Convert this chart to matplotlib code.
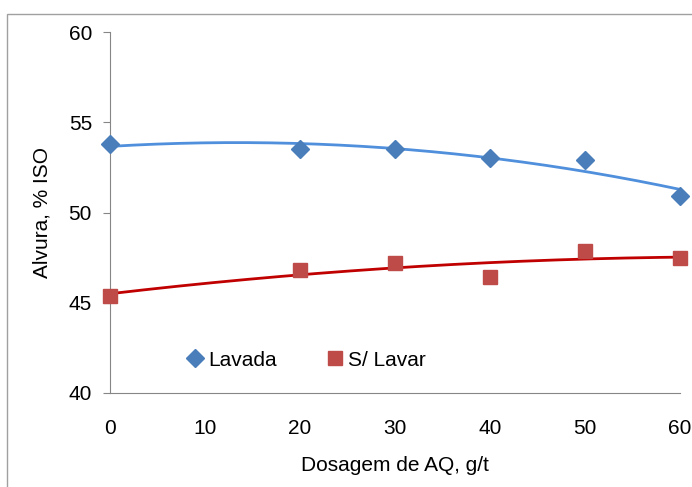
import numpy as np
import matplotlib.pyplot as plt
from matplotlib.patches import Rectangle

plt.rcParams['font.family'] = ['Liberation Sans', 'DejaVu Sans']

dose = [0, 20, 30, 40, 50, 60]
lavada = [53.8, 53.5, 53.5, 53.0, 52.9, 50.9]
s_lavar = [45.4, 46.8, 47.2, 46.4, 47.85, 47.5]

blue = "#4a7ebb"
blue_line = "#4f8fdc"
red = "#be4b48"
red_line = "#c00000"
fs = 15

fig = plt.figure(figsize=(6.92, 4.87), dpi=100)
# outer chart-area frame (cut off at right/bottom as in the source)
fig.patches.append(Rectangle((7/692, -0.05), 1.0, 1 - 14/487 + 0.05,
                             transform=fig.transFigure, fill=False,
                             edgecolor="#a0a0a0", linewidth=1.0))
ax = fig.add_axes([110/692, 1 - 393/487, 570/692, 361/487])

# polynomial trendlines (2nd order)
xs = np.linspace(0, 60, 200)
pb = np.polyfit(dose, lavada, 2)
pr = np.polyfit(dose, s_lavar, 2)
ax.plot(xs, np.polyval(pb, xs), color=blue_line, lw=2, zorder=2)
ax.plot(xs, np.polyval(pr, xs), color=red_line, lw=2, zorder=2)

ax.plot(dose, lavada, linestyle="none", marker="D", ms=9, color=blue,
        label="Lavada", zorder=3, clip_on=False)
ax.plot(dose, s_lavar, linestyle="none", marker="s", ms=10, color=red,
        label="S/ Lavar", zorder=3, clip_on=False)

ax.set_xlim(0, 60)
ax.set_ylim(40, 60)
ax.set_xticks([0, 10, 20, 30, 40, 50, 60])
ax.set_yticks([40, 45, 50, 55, 60])
for s in ["top", "right"]:
    ax.spines[s].set_visible(False)
for s in ["left", "bottom"]:
    ax.spines[s].set_color("#868686")
ax.tick_params(axis="y", length=5, color="#868686", labelsize=fs, pad=8)
ax.tick_params(axis="x", length=0, labelsize=fs, pad=19)

ax.set_xlabel("Dosagem de AQ, g/t", fontsize=fs, labelpad=13)
ax.set_ylabel("Alvura, % ISO", fontsize=fs, labelpad=12)

ax.legend(loc="center left", bbox_to_anchor=(0.135, 0.091), ncol=2, frameon=False,
          fontsize=fs, handlelength=0.8, handletextpad=0.22, columnspacing=2.4,
          borderpad=0, borderaxespad=0, markerscale=1.0)

fig.savefig("out.png", dpi=100)
